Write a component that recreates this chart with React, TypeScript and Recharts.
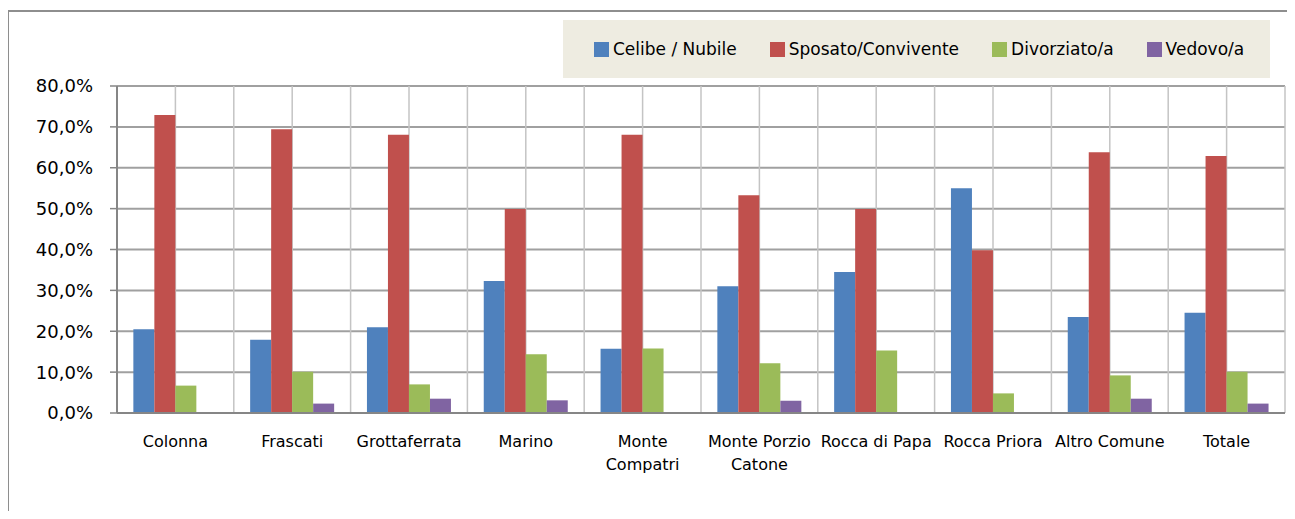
import React from 'react';
import { BarChart, Bar, XAxis, YAxis, CartesianGrid } from 'recharts';

const categories = [
    'Colonna',
    'Frascati',
    'Grottaferrata',
    'Marino',
    'Monte Compatri',
    'Monte Porzio Catone',
    'Rocca di Papa',
    'Rocca Priora',
    'Altro Comune',
    'Totale',
];

const celibe = [20.5, 17.9, 21.0, 32.3, 15.7, 31.0, 34.5, 55.0, 23.5, 24.5];
const sposato = [72.9, 69.4, 68.1, 49.9, 68.1, 53.3, 49.9, 39.8, 63.8, 62.9];
const divorziato = [6.7, 10.1, 7.0, 14.4, 15.8, 12.2, 15.3, 4.8, 9.2, 10.1];
const vedovo = [0, 2.3, 3.5, 3.1, 0, 3.0, 0, 0, 3.5, 2.3];

const yTicks = [0, 10, 20, 30, 40, 50, 60, 70, 80];
const edgeTicks = [0, 1, 2, 3, 4, 5, 6, 7, 8, 9, 10];

const SERIES = [
    { key: 'celibe', name: 'Celibe / Nubile', color: '#4F81BD', values: celibe },
    { key: 'sposato', name: 'Sposato/Convivente', color: '#C0504D', values: sposato },
    { key: 'divorziato', name: 'Divorziato/a', color: '#9BBB59', values: divorziato },
    { key: 'vedovo', name: 'Vedovo/a', color: '#8064A2', values: vedovo },
];

const FONT = '"DejaVu Sans", sans-serif';

const chartData = categories.map((name, i) => {
    const row: Record<string, string | number> = { name };
    SERIES.forEach((s) => {
        row[s.key] = s.values[i];
    });
    return row;
});

// greedy word wrap, roughly like excel does it
const wrapLabel = (label: string, maxChars = 13) => {
    const lines: string[] = [];
    let cur = '';
    label.split(' ').forEach((w) => {
        const next = cur ? cur + ' ' + w : w;
        if (next.length > maxChars && cur) {
            lines.push(cur);
            cur = w;
        } else {
            cur = next;
        }
    });
    if (cur) lines.push(cur);
    return lines;
};

const CategoryTick = (props: any) => {
    const { x, y, payload } = props;
    const lines = wrapLabel(String(payload.value));
    return (
        <text x={x} y={y} textAnchor="middle" fill="#000" fontSize={16} fontFamily={FONT}>
            {lines.map((l, i) => (
                <tspan key={i} x={x} y={y + 32 + i * 23}>
                    {l}
                </tspan>
            ))}
        </text>
    );
};

const fmtPct = (v: number) => v.toFixed(1).replace('.', ',') + '%';

const App = () => {
    return (
        <div style={{ position: 'relative', width: 1295, height: 519, margin: -8, overflow: 'hidden', background: '#fff' }}>
            <div
                style={{
                    position: 'absolute',
                    left: 7,
                    top: 10,
                    width: 1310,
                    height: 530,
                    border: '2px solid #8e8e8e',
                    boxSizing: 'border-box',
                }}
            />
            <div
                style={{
                    position: 'absolute',
                    left: 563,
                    top: 20,
                    width: 707,
                    height: 58,
                    background: '#EEECE1',
                    display: 'flex',
                    alignItems: 'center',
                    gap: 33,
                    paddingLeft: 31,
                    boxSizing: 'border-box',
                    fontFamily: FONT,
                    fontSize: 17,
                    color: '#000',
                    whiteSpace: 'nowrap',
                }}
            >
                {SERIES.map((s) => (
                    <div key={s.key} style={{ display: 'flex', alignItems: 'center', flexShrink: 0 }}>
                        <span style={{ display: 'inline-block', width: 15, height: 15, background: s.color, marginRight: 4 }} />
                        <span>{s.name}</span>
                    </div>
                ))}
            </div>
            <div style={{ position: 'absolute', left: 0, top: 0 }}>
                <BarChart
                    width={1295}
                    height={519}
                    data={chartData}
                    margin={{ top: 86, right: 10, left: 0, bottom: 0 }}
                    barCategoryGap="14%"
                    barGap={0}
                >
                    <CartesianGrid xAxisId="cat" vertical={false} stroke="#a0a0a0" strokeWidth={2} />
                    <CartesianGrid
                        xAxisId="cat"
                        horizontal={false}
                        stroke="#c4c4c4"
                        strokeWidth={1.5}
                        verticalCoordinatesGenerator={({ offset }: any) =>
                            Array.from({ length: 21 }, (_, i) => offset.left + (offset.width * i) / 20)
                        }
                    />
                    <XAxis
                        xAxisId="edge"
                        type="number"
                        domain={[0, 10]}
                        ticks={edgeTicks}
                        tick={false}
                        tickSize={6}
                        tickLine={{ stroke: '#868686', strokeWidth: 1.5 }}
                        axisLine={false}
                        height={0}
                    />
                    <XAxis
                        xAxisId="cat"
                        dataKey="name"
                        height={106}
                        interval={0}
                        tickLine={false}
                        tickSize={0}
                        tick={<CategoryTick />}
                        axisLine={{ stroke: '#868686', strokeWidth: 2 }}
                    />
                    <YAxis
                        width={117}
                        domain={[0, 80]}
                        ticks={yTicks}
                        tickFormatter={fmtPct}
                        tickSize={7}
                        tickMargin={17}
                        tickLine={{ stroke: '#868686', strokeWidth: 1.5 }}
                        axisLine={{ stroke: '#868686', strokeWidth: 2 }}
                        tick={{ fill: '#000', fontSize: 18, fontFamily: FONT }}
                    />
                    {SERIES.map((s) => (
                        <Bar key={s.key} xAxisId="cat" dataKey={s.key} name={s.name} fill={s.color} isAnimationActive={false} />
                    ))}
                </BarChart>
            </div>
        </div>
    );
};

export default App;
